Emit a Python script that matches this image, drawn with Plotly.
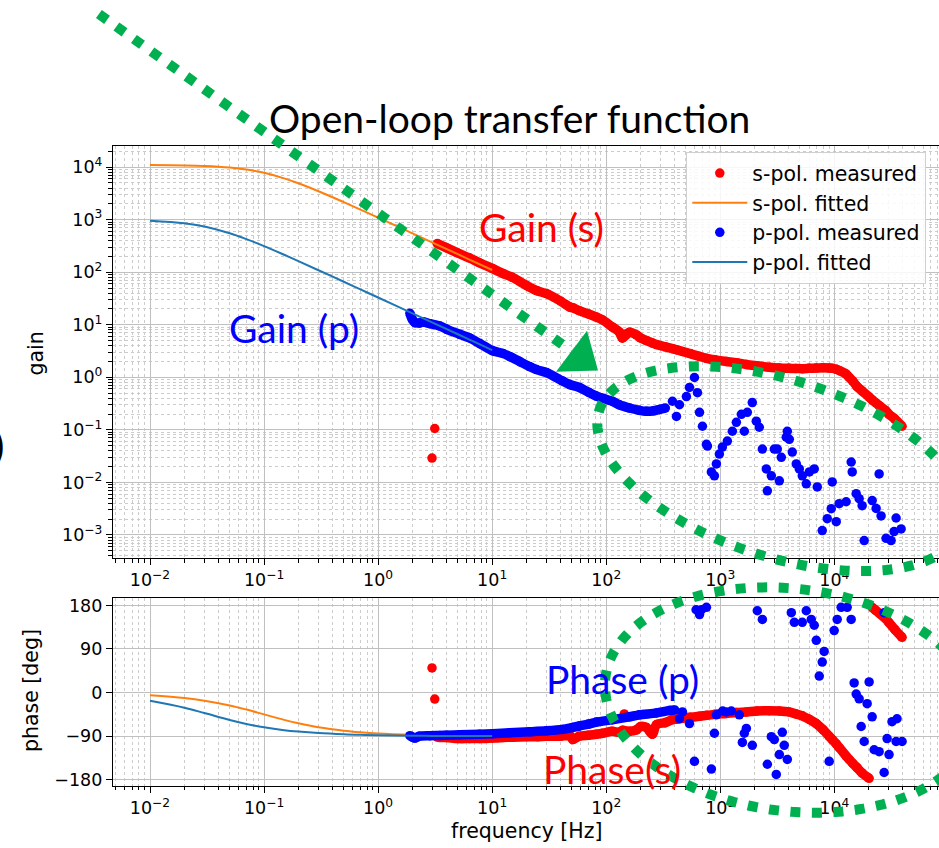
import math
import plotly.graph_objects as go

W, H = 939, 848

# ---------------- data ----------------
# fitted transfer functions (0.01 Hz .. 10 Hz)
fit_freq = [0.01, 0.02, 0.03, 0.05, 0.07, 0.1, 0.15, 0.2, 0.3, 0.5, 0.7, 1, 2, 3, 5, 7, 10]
s_fit_gain = [10945, 10787, 10536, 9839, 9011, 7778, 6102, 4919, 3479, 2157, 1556, 1094, 549, 366, 220, 157, 110]
s_fit_phase = [-5.7, -11.3, -16.7, -26.6, -35, -45, -56.3, -63.4, -71.6, -78.7, -81.9, -84.3, -87.1, -88.1, -88.9, -89.2, -89.4]
p_fit_gain = [957, 855, 740, 551, 426, 314, 215, 163, 109, 65.9, 47.1, 33.0, 16.5, 11.0, 6.6, 4.71, 3.30]
p_fit_phase = [-16.9, -31.2, -42.3, -56.6, -64.8, -71.7, -77.6, -80.6, -83.7, -86.2, -87.3, -88.1, -89.1, -89.4, -89.6, -89.7, -89.8]

# s-pol measured (continuous part)
s_freq = [3.3, 4.0, 5.0, 6.35, 7.8, 10, 12.4, 15, 20, 25, 30, 40, 48, 51, 58, 70, 82, 93, 113, 130,
          139, 160, 184, 200, 225, 254, 276, 330, 381, 412, 466, 550, 658, 757, 900, 1132, 1380, 1700,
          2100, 2690, 3300, 4000, 4600, 5240, 6000, 6950, 8000, 9000, 9590, 10400, 11000, 12700, 13500,
          14500, 15800, 17500, 20200, 21480, 23000, 24700, 28400, 30000, 34000, 39300]
s_gain = [350, 290, 232, 186, 150, 118, 95, 80, 56, 44, 39, 28, 21.7, 21, 18.5, 16, 14, 12.3, 9.1, 7.3,
          5.6, 7.2, 6.4, 5.6, 5.0, 4.5, 4.2, 3.8, 3.5, 3.34, 3.1, 2.8, 2.5, 2.3, 2.15, 2.0, 1.9, 1.75,
          1.65, 1.55, 1.5, 1.48, 1.47, 1.46, 1.48, 1.5, 1.52, 1.5, 1.48, 1.42, 1.35, 1.15, 1.0,
          0.85, 0.67, 0.55, 0.42, 0.37, 0.33, 0.29, 0.23, 0.2, 0.16, 0.117]
s_phase = [-92, -93, -95, -95, -95, -94, -93, -92, -91, -91, -90, -90, -89, -97, -90, -88, -86, -84, -80, -82,
           -78, -80, -77, -70, -72, -86, -66, -62, -56, -55, -53, -51, -49, -47, -45, -43, -41, -40,
           -38, -37.5, -38, -40, -44, -48, -55, -64, -77, -90, -97, -106, -113, -131, -138,
           -146, -155, -166, -177, 176, 170, 164, 152, 145, 130, 114]
# s-pol measured, isolated points
s_stray_freq = [2.97, 3.14, 144]
s_stray_gain = [0.029, 0.106, 6.6]
s_stray_phase = [51, -13.5, -44]

# p-pol measured gain
p_gain_freq = [1.9, 2.0, 2.1, 2.3, 2.5, 2.84, 3.47, 4.0, 5.19, 6.35, 7.77, 10.1, 12.4, 14.2, 17.4, 21.3, 24.5, 30,
               41.4, 47.7, 58.2, 70, 82, 93, 113, 130, 160, 195, 225, 260, 293, 330, 381, 413, 439, 505, 537,
               594, 631, 658, 698, 757, 772, 836, 889, 925, 982, 1044, 1154, 1277, 1384, 1531, 1626, 1727,
               1910, 2070, 2200, 2340, 2535, 2588, 2805, 2980, 3163, 3297, 3430, 3793, 3873, 4030, 4282,
               4642, 4932, 5240, 5680, 6040, 6670, 7090, 7840, 8670, 9400, 9590, 10400, 11040, 12700, 14060,
               14360, 15560, 16520, 17550, 18280, 21480, 23270, 24720, 25720, 28440, 31470, 33420, 34820, 38540]
p_gain = [16.5, 12.5, 11.0, 10.8, 11.3, 10.5, 9.5, 8.2, 6.6, 5.6, 4.4, 3.2, 2.85, 2.5, 2.0, 1.6, 1.4, 1.23,
          0.85, 0.73, 0.64, 0.52, 0.44, 0.40, 0.35, 0.30, 0.26, 0.235, 0.225, 0.23, 0.245, 0.26, 0.35, 0.18, 0.30, 0.43, 0.64,
          0.99, 0.51, 0.215, 0.117, 0.053, 0.049, 0.0158, 0.0133, 0.0224, 0.0346, 0.047, 0.061, 0.094, 0.139, 0.197, 0.094, 0.215,
          0.33, 0.146, 0.112, 0.043, 0.018, 0.0069, 0.0133, 0.043, 0.043, 0.0107, 0.030, 0.0725, 0.094, 0.066, 0.0377,
          0.0224, 0.018, 0.0133, 0.0094, 0.0158, 0.018, 0.0082, 0.00121, 0.00204, 0.00316, 0.0102, 0.00179, 0.00393, 0.00428, 0.0244,
          0.0158, 0.0061, 0.0049, 0.0036, 0.00078, 0.0045, 0.0032, 0.0145, 0.0023, 0.00086, 0.00078, 0.00116, 0.0021, 0.0013]

# p-pol measured phase
p_phase_freq = [1.9, 2.0, 2.1, 2.3, 2.84, 3.47, 4.0, 5.19, 7.77, 10.1, 14.2, 21.3, 30, 41.4, 50.7, 58.2, 70, 82,
                113, 160, 195, 276, 358, 400, 439, 466, 537, 594, 614, 658, 685, 757, 836, 889, 925, 1050, 1132,
                1250, 1469, 1563, 1626, 1694, 1910, 2113, 2340, 2588, 2805, 2980, 3100, 3297, 3500, 3640, 3873,
                4200, 4460, 5240, 5680, 6280, 6670, 6950, 7380, 7840, 8150, 9020, 9980, 10600, 11480, 12970,
                14060, 14930, 15560, 16520, 17200, 18280, 19410, 20200, 21480, 22350, 24720, 27350, 27350,
                29030, 30200, 32070, 34820, 35480, 39300]
p_phase = [-89, -92, -94, -90, -89, -88.5, -88, -87, -86, -85, -83, -81, -79, -76, -72, -69, -65, -61,
           -56, -50, -46, -42, -37, -36, -54, -40, -64, -142, 171, 161, 171, 176, -158, -84, -46, -38, -40,
           -38, -46, -103, -84, -74, -109, 169, 151, -148, -91, -97, -169, -128, -82, -109, -138,
           165, 145, 145, 169, 151, 139, 108, 34, 63, 85, -142, 128, 151, 176, 176,
           151, 20, -3, -13, -70, -101, -23, 22, -50, -118, -122, 165, -165,
           -95, -128, -60, -101, -54, -101]

gain_tick_exp = [-3, -2, -1, 0, 1, 2, 3, 4]
freq_tick_exp = [-2, -1, 0, 1, 2, 3, 4]
phase_ticks = [-180, -90, 0, 90, 180]

# ---------------- styling ----------------
RED, BLUE, ORANGE, STEEL = "#ff0000", "#0000ff", "#ff7f0e", "#1f77b4"
GREEN = "#00b050"
TICK_FONT = dict(family="DejaVu Sans", size=17.5, color="black")
LABEL_SIZE = 20.5
SLIDE_FONT = "Lato"
SLIDE_SIZE = 39
P_GAIN_BAND_HZ = 340
P_PHASE_BAND_HZ = 410
MS = 9.5
BAND_W = 9.5


def pxx(x):
    return x / W


def pyy(y):
    return 1 - y / H


def exp_label(e):
    return "10<sup>" + ("\u2212" if e < 0 else "") + str(abs(e)) + "</sup>"


def with_breaks(xs, ys):
    ox, oy = [xs[0]], [ys[0]]
    for i in range(1, len(xs)):
        if abs(ys[i] - ys[i - 1]) > 180:
            ox.append(None)
            oy.append(None)
        ox.append(xs[i])
        oy.append(ys[i])
    return ox, oy


def band_line(color):
    return dict(color=color, width=BAND_W, shape="spline", smoothing=0.8)


fig = go.Figure()

# ---- gain panel ----
fig.add_trace(go.Scatter(x=s_freq, y=s_gain, mode="lines", line=band_line(RED),
                         showlegend=False, legendgroup="sm", hoverinfo="skip", xaxis="x", yaxis="y"))
fig.add_trace(go.Scatter(x=s_stray_freq + s_freq, y=s_stray_gain + s_gain, mode="markers",
                         marker=dict(color=RED, size=MS), name="s-pol. measured", legendgroup="sm",
                         xaxis="x", yaxis="y"))
fig.add_trace(go.Scatter(x=fit_freq, y=s_fit_gain, mode="lines", line=dict(color=ORANGE, width=2, shape="spline"),
                         name="s-pol. fitted", legendgroup="sf", xaxis="x", yaxis="y"))
pb = [i for i, f in enumerate(p_gain_freq) if f <= P_GAIN_BAND_HZ]
fig.add_trace(go.Scatter(x=[p_gain_freq[i] for i in pb], y=[p_gain[i] for i in pb], mode="lines",
                         line=band_line(BLUE), showlegend=False, legendgroup="pm",
                         hoverinfo="skip", xaxis="x", yaxis="y"))
fig.add_trace(go.Scatter(x=p_gain_freq, y=p_gain, mode="markers", marker=dict(color=BLUE, size=MS),
                         name="p-pol. measured", legendgroup="pm", xaxis="x", yaxis="y"))
fig.add_trace(go.Scatter(x=fit_freq, y=p_fit_gain, mode="lines", line=dict(color=STEEL, width=2, shape="spline"),
                         name="p-pol. fitted", legendgroup="pf", xaxis="x", yaxis="y"))

# ---- phase panel ----
bx, by = with_breaks(s_freq, s_phase)
fig.add_trace(go.Scatter(x=bx, y=by, mode="lines", line=band_line(RED), connectgaps=False,
                         showlegend=False, legendgroup="sm", hoverinfo="skip", xaxis="x2", yaxis="y2"))
fig.add_trace(go.Scatter(x=s_stray_freq + s_freq, y=s_stray_phase + s_phase, mode="markers",
                         marker=dict(color=RED, size=MS), showlegend=False, legendgroup="sm",
                         xaxis="x2", yaxis="y2"))
fig.add_trace(go.Scatter(x=fit_freq, y=s_fit_phase, mode="lines", line=dict(color=ORANGE, width=2, shape="spline"),
                         showlegend=False, legendgroup="sf", xaxis="x2", yaxis="y2"))
qb = [i for i, f in enumerate(p_phase_freq) if f <= P_PHASE_BAND_HZ]
fig.add_trace(go.Scatter(x=[p_phase_freq[i] for i in qb], y=[p_phase[i] for i in qb], mode="lines",
                         line=band_line(BLUE), showlegend=False, legendgroup="pm",
                         hoverinfo="skip", xaxis="x2", yaxis="y2"))
fig.add_trace(go.Scatter(x=p_phase_freq, y=p_phase, mode="markers", marker=dict(color=BLUE, size=MS),
                         showlegend=False, legendgroup="pm", xaxis="x2", yaxis="y2"))
fig.add_trace(go.Scatter(x=fit_freq, y=p_fit_phase, mode="lines", line=dict(color=STEEL, width=2, shape="spline"),
                         showlegend=False, legendgroup="pf", xaxis="x2", yaxis="y2"))

# ---------------- axes ----------------
freq_minor = [m * 10 ** e for e in range(-3, 5) for m in range(2, 10)]
gain_minor = [m * 10 ** e for e in range(-4, 5) for m in range(2, 10)]

axis_common = dict(showline=True, linecolor="black", linewidth=1.3, ticks="outside", ticklen=6,
                   tickwidth=1.3, tickcolor="black", showgrid=True, gridcolor="#c0c0c0", gridwidth=1.3,
                   zeroline=False, tickfont=TICK_FONT)
minor_log = dict(ticks="outside", ticklen=3.5, tickwidth=1, tickcolor="black", showgrid=True,
                 gridcolor="#cccccc", griddash="dot", gridwidth=1)

x_left, x_right = 113, W
x_range = [(x_left - 378.1) / 114.05, (x_right - 378.1) / 114.05]
gain_top, gain_bot = 144.7, 560
phase_top, phase_bot = 600, 789.3

fig.update_layout(
    xaxis=dict(type="log", range=x_range, domain=[pxx(x_left), 1], anchor="y", mirror=True,
               tickvals=[10 ** e for e in freq_tick_exp], ticktext=[exp_label(e) for e in freq_tick_exp],
               minor=dict(tickvals=freq_minor, **minor_log), **axis_common),
    yaxis=dict(type="log", range=[-3.44, 4.408], domain=[pyy(gain_bot), pyy(gain_top)], anchor="x",
               tickvals=[10 ** e for e in gain_tick_exp], ticktext=[exp_label(e) for e in gain_tick_exp],
               minor=dict(tickvals=gain_minor, **minor_log), **axis_common),
    xaxis2=dict(type="log", range=x_range, domain=[pxx(x_left), 1], anchor="y2", mirror=True,
                tickvals=[10 ** e for e in freq_tick_exp], ticktext=[exp_label(e) for e in freq_tick_exp],
                minor=dict(tickvals=freq_minor, **minor_log), **axis_common),
    yaxis2=dict(range=[-192.3, 195.8], domain=[pyy(phase_bot), pyy(phase_top)], anchor="x2",
                tickvals=phase_ticks, **axis_common),
)

# ---------------- text ----------------
ann = []


def add_text(text, x, y, size, color="black", font=SLIDE_FONT, angle=0, xanchor="center"):
    ann.append(dict(text=text, x=pxx(x), y=pyy(y), xref="paper", yref="paper", showarrow=False,
                    xanchor=xanchor, yanchor="middle", textangle=angle,
                    font=dict(family=font, size=size, color=color)))


add_text("Open-loop transfer function", 510, 117, SLIDE_SIZE)
add_text("Gain (s)", 541, 227, SLIDE_SIZE, RED)
add_text("Gain (p)", 294, 328, SLIDE_SIZE, BLUE)
add_text("Phase (p)", 622, 682, SLIDE_SIZE, BLUE)
add_text("Phase(s)", 612, 772, SLIDE_SIZE, RED)
add_text("gain", 36, 354, LABEL_SIZE, font="DejaVu Sans", angle=-90)
add_text("phase [deg]", 31, 694, LABEL_SIZE, font="DejaVu Sans", angle=-90)
add_text("frequency [Hz]", 527, 835, LABEL_SIZE, font="DejaVu Sans")
add_text(")", 6, 446, SLIDE_SIZE, xanchor="right")

# ---------------- green slide decorations ----------------
dot_line = dict(color=GREEN, width=10, dash="10px,11.5px")


def ellipse_path(cx, cy, a, b, deg, n=160):
    t0 = math.radians(deg)
    pts = []
    for k in range(n + 1):
        t = 2 * math.pi * k / n
        x = cx + a * math.cos(t) * math.cos(t0) - b * math.sin(t) * math.sin(t0)
        y = cy + a * math.cos(t) * math.sin(t0) + b * math.sin(t) * math.cos(t0)
        pts.append((pxx(x), pyy(y)))
    return "M " + " L ".join(f"{x:.5f},{y:.5f}" for x, y in pts)


shapes = [
    dict(type="line", xref="paper", yref="paper", x0=pxx(98.9), y0=pyy(12.1), x1=pxx(571.7), y1=pyy(351.7),
         line=dot_line),
    dict(type="path", xref="paper", yref="paper",
         path=f"M {pxx(587)},{pyy(331)} L {pxx(556)},{pyy(372.5)} L {pxx(598)},{pyy(371)} Z",
         fillcolor=GREEN, line=dict(width=0)),
    dict(type="path", xref="paper", yref="paper", path=ellipse_path(781, 470, 191, 89, 18), line=dot_line),
    dict(type="path", xref="paper", yref="paper", path=ellipse_path(791, 703, 187, 112, 7), line=dot_line),
]

fig.update_layout(
    width=W, height=H, margin=dict(l=0, r=0, t=0, b=0),
    paper_bgcolor="white", plot_bgcolor="white",
    annotations=ann, shapes=shapes,
    showlegend=True,
    legend=dict(x=pxx(686), y=pyy(151), xanchor="left", yanchor="top", bgcolor="rgba(255,255,255,0.85)",
                bordercolor="#d0d0d0", borderwidth=1.3,
                font=dict(family="DejaVu Sans", size=LABEL_SIZE, color="black"),
                traceorder="grouped", tracegroupgap=0, itemwidth=55),
)

fig.write_html("out.html")
